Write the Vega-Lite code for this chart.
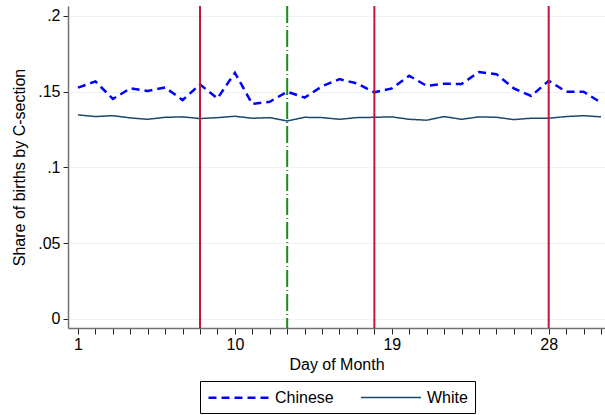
{
  "$schema": "https://vega.github.io/schema/vega-lite/v6.json",
  "width": 537,
  "height": 322,
  "autosize": {"type": "none"},
  "padding": {"left": 68, "top": 6, "right": 0, "bottom": 87},
  "background": "white",
  "config": {
    "font": "Liberation Sans",
    "view": {"stroke": null},
    "axis": {"labelFont": "Liberation Sans", "titleFont": "Liberation Sans", "labelFontSize": 16, "titleFontSize": 16, "titleFontWeight": "normal", "labelColor": "black", "titleColor": "black", "tickColor": "#222222", "domainColor": "#707070", "domainWidth": 1.5, "labelOverlap": false}
  },
  "datasets": {
    "series": [
      {"day": 1, "group": "Chinese", "share": 0.1526},
      {"day": 2, "group": "Chinese", "share": 0.1567},
      {"day": 3, "group": "Chinese", "share": 0.1451},
      {"day": 4, "group": "Chinese", "share": 0.1521},
      {"day": 5, "group": "Chinese", "share": 0.1504},
      {"day": 6, "group": "Chinese", "share": 0.1527},
      {"day": 7, "group": "Chinese", "share": 0.1444},
      {"day": 8, "group": "Chinese", "share": 0.1547},
      {"day": 9, "group": "Chinese", "share": 0.1455},
      {"day": 10, "group": "Chinese", "share": 0.1624},
      {"day": 11, "group": "Chinese", "share": 0.1418},
      {"day": 12, "group": "Chinese", "share": 0.1433},
      {"day": 13, "group": "Chinese", "share": 0.1499},
      {"day": 14, "group": "Chinese", "share": 0.1460},
      {"day": 15, "group": "Chinese", "share": 0.1535},
      {"day": 16, "group": "Chinese", "share": 0.1582},
      {"day": 17, "group": "Chinese", "share": 0.1554},
      {"day": 18, "group": "Chinese", "share": 0.1495},
      {"day": 19, "group": "Chinese", "share": 0.1521},
      {"day": 20, "group": "Chinese", "share": 0.1604},
      {"day": 21, "group": "Chinese", "share": 0.1538},
      {"day": 22, "group": "Chinese", "share": 0.1552},
      {"day": 23, "group": "Chinese", "share": 0.1550},
      {"day": 24, "group": "Chinese", "share": 0.1629},
      {"day": 25, "group": "Chinese", "share": 0.1615},
      {"day": 26, "group": "Chinese", "share": 0.1521},
      {"day": 27, "group": "Chinese", "share": 0.1471},
      {"day": 28, "group": "Chinese", "share": 0.1571},
      {"day": 29, "group": "Chinese", "share": 0.1499},
      {"day": 30, "group": "Chinese", "share": 0.1499},
      {"day": 31, "group": "Chinese", "share": 0.1427},
      {"day": 1, "group": "White", "share": 0.1346},
      {"day": 2, "group": "White", "share": 0.1335},
      {"day": 3, "group": "White", "share": 0.1341},
      {"day": 4, "group": "White", "share": 0.1326},
      {"day": 5, "group": "White", "share": 0.1317},
      {"day": 6, "group": "White", "share": 0.1330},
      {"day": 7, "group": "White", "share": 0.1333},
      {"day": 8, "group": "White", "share": 0.1322},
      {"day": 9, "group": "White", "share": 0.1328},
      {"day": 10, "group": "White", "share": 0.1337},
      {"day": 11, "group": "White", "share": 0.1324},
      {"day": 12, "group": "White", "share": 0.1328},
      {"day": 13, "group": "White", "share": 0.1306},
      {"day": 14, "group": "White", "share": 0.1330},
      {"day": 15, "group": "White", "share": 0.1328},
      {"day": 16, "group": "White", "share": 0.1317},
      {"day": 17, "group": "White", "share": 0.1328},
      {"day": 18, "group": "White", "share": 0.1330},
      {"day": 19, "group": "White", "share": 0.1333},
      {"day": 20, "group": "White", "share": 0.1317},
      {"day": 21, "group": "White", "share": 0.1311},
      {"day": 22, "group": "White", "share": 0.1335},
      {"day": 23, "group": "White", "share": 0.1317},
      {"day": 24, "group": "White", "share": 0.1333},
      {"day": 25, "group": "White", "share": 0.1330},
      {"day": 26, "group": "White", "share": 0.1315},
      {"day": 27, "group": "White", "share": 0.1324},
      {"day": 28, "group": "White", "share": 0.1324},
      {"day": 29, "group": "White", "share": 0.1335},
      {"day": 30, "group": "White", "share": 0.1341},
      {"day": 31, "group": "White", "share": 0.1333}
    ],
    "redlines": [{"day": 8}, {"day": 18}, {"day": 28}],
    "greenline": [{"day": 13}]
  },
  "encoding": {
    "x": {
      "field": "day", "type": "quantitative",
      "scale": {"domain": [0.427, 31.23], "nice": false, "zero": false},
      "axis": {
        "title": "Day of Month",
        "values": [1,2,3,4,5,6,7,8,9,10,11,12,13,14,15,16,17,18,19,20,21,22,23,24,25,26,27,28,29,30,31],
        "labelExpr": "indexof([1,10,19,28], datum.value) >= 0 ? datum.label : ''",
        "grid": false, "tickSize": 6, "labelPadding": 2, "titlePadding": 4, "labelOverlap": false, "labelFlush": false
      }
    }
  },
  "layer": [
    {
      "data": {"name": "series"},
      "mark": {"type": "line", "clip": true},
      "encoding": {
        "y": {
          "field": "share", "type": "quantitative",
          "scale": {"domain": [-0.0061, 0.2065], "nice": false, "zero": false},
          "axis": {
            "title": "Share of births by C-section",
            "values": [0, 0.05, 0.1, 0.15, 0.2],
            "labelExpr": "datum.value == 0 ? '0' : slice(format(datum.value, '.2~f'), 1)",
            "grid": true, "gridColor": "#eaf2f3", "gridWidth": 1.2,
            "tickSize": 5, "labelPadding": 3, "titlePadding": 10, "labelFlush": false
          }
        },
        "color": {
          "field": "group", "type": "nominal",
          "scale": {"domain": ["Chinese", "White"], "range": ["#0000ff", "#1a476f"]},
          "legend": {
            "title": null, "orient": "none", "legendX": 132, "legendY": 375,
            "direction": "horizontal", "strokeColor": "#000000", "padding": 7,
            "symbolType": "M-3.75,0H3.75", "symbolSize": 256, "symbolStrokeWidth": 2, "symbolOffset": 22,
            "labelFontSize": 16, "labelFont": "Liberation Sans", "labelColor": "black",
            "labelOffset": 27, "columnPadding": 24, "fillColor": "white"
          }
        },
        "strokeDash": {
          "field": "group", "type": "nominal",
          "scale": {"domain": ["Chinese", "White"], "range": [[8, 5], [1, 0]]},
          "legend": {
            "title": null, "orient": "none", "legendX": 132, "legendY": 375,
            "direction": "horizontal", "strokeColor": "#000000", "padding": 7,
            "symbolType": "M-3.75,0H3.75", "symbolSize": 256, "symbolStrokeWidth": 2, "symbolOffset": 22,
            "labelFontSize": 16, "labelFont": "Liberation Sans", "labelColor": "black",
            "labelOffset": 27, "columnPadding": 24, "fillColor": "white"
          }
        },
        "strokeWidth": {
          "field": "group", "type": "nominal",
          "scale": {"domain": ["Chinese", "White"], "range": [2.5, 1.5]},
          "legend": null
        }
      }
    },
    {
      "data": {"name": "redlines"},
      "mark": {"type": "rule", "color": "#c8143c", "strokeWidth": 2}
    },
    {
      "data": {"name": "greenline"},
      "mark": {"type": "rule", "color": "#1a8c1a", "strokeWidth": 2, "strokeDash": [17, 3, 1, 3]}
    }
  ]
}
